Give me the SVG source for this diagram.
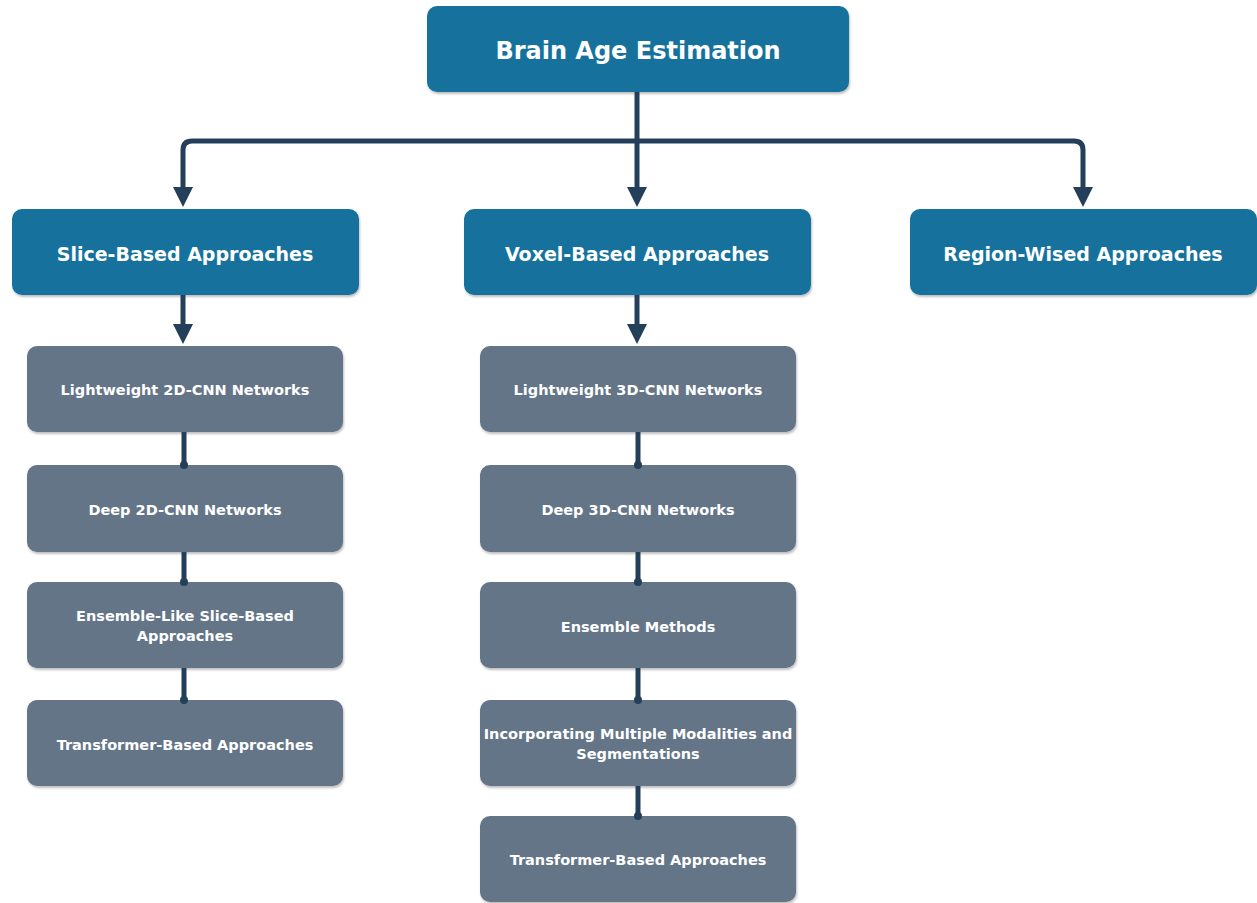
<svg xmlns="http://www.w3.org/2000/svg" width="1257" height="903" viewBox="0 0 1257 903">
<defs>
<style>
.blue{fill:#12729d}
.gray{fill:#647487}
.box{filter:url(#sh)}
.t1{font-family:"DejaVu Sans",Verdana,sans-serif;font-weight:bold;fill:#fff;text-anchor:middle;dominant-baseline:central}
.big{font-size:24px}
.mid{font-size:19px}
.sm{font-size:14.5px}
.ln{fill:none;stroke:#243f5a;stroke-width:5}
.arr{fill:#243f5a}
.dot{fill:#243f5a}
</style>
<filter id="sh" x="-5%" y="-5%" width="110%" height="120%">
<feDropShadow dx="1" dy="2" stdDeviation="1.2" flood-color="#000" flood-opacity="0.25"/>
</filter>
</defs>
<rect width="1257" height="903" fill="#fff"/>
<g id="root"><rect class="box blue" x="427" y="6" width="422" height="86" rx="10"/><text class="t1 big" x="638" y="51">Brain Age Estimation</text></g>
<g id="slice"><rect class="box blue" x="12" y="209" width="347" height="86" rx="10"/><text class="t1 mid" x="185" y="254">Slice-Based Approaches</text></g>
<g id="voxel"><rect class="box blue" x="464" y="209" width="347" height="86" rx="10"/><text class="t1 mid" x="637" y="254">Voxel-Based Approaches</text></g>
<g id="region"><rect class="box blue" x="910" y="209" width="347" height="86" rx="10"/><text class="t1 mid" x="1083" y="254">Region-Wised Approaches</text></g>
<g id="s1"><rect class="box gray" x="27" y="346" width="316" height="86" rx="10"/><text class="t1 sm" x="185" y="390">Lightweight 2D-CNN Networks</text></g>
<g id="s2"><rect class="box gray" x="27" y="465" width="316" height="87" rx="10"/><text class="t1 sm" x="185" y="510">Deep 2D-CNN Networks</text></g>
<g id="s3"><rect class="box gray" x="27" y="582" width="316" height="86" rx="10"/><text class="t1 sm" x="185" y="616">Ensemble-Like Slice-Based</text><text class="t1 sm" x="185" y="636">Approaches</text></g>
<g id="s4"><rect class="box gray" x="27" y="700" width="316" height="86" rx="10"/><text class="t1 sm" x="185" y="745">Transformer-Based Approaches</text></g>
<g id="v1"><rect class="box gray" x="480" y="346" width="316" height="86" rx="10"/><text class="t1 sm" x="638" y="390">Lightweight 3D-CNN Networks</text></g>
<g id="v2"><rect class="box gray" x="480" y="465" width="316" height="87" rx="10"/><text class="t1 sm" x="638" y="510">Deep 3D-CNN Networks</text></g>
<g id="v3"><rect class="box gray" x="480" y="582" width="316" height="86" rx="10"/><text class="t1 sm" x="638" y="627">Ensemble Methods</text></g>
<g id="v4"><rect class="box gray" x="480" y="700" width="316" height="86" rx="10"/><text class="t1 sm" x="638" y="734">Incorporating Multiple Modalities and</text><text class="t1 sm" x="638" y="754">Segmentations</text></g>
<g id="v5"><rect class="box gray" x="480" y="816" width="316" height="86" rx="10"/><text class="t1 sm" x="638" y="860">Transformer-Based Approaches</text></g>
<g id="connectors">
<path class="ln" d="M637 92 V188"/>
<path class="ln" d="M183 188 V150 Q183 141 192 141 H1074 Q1083 141 1083 150 V188"/>
<polygon class="arr" points="173,187 193,187 183,207"/>
<polygon class="arr" points="627,187 647,187 637,207"/>
<polygon class="arr" points="1073,187 1093,187 1083,207"/>
<path class="ln" d="M183 295 V326"/>
<polygon class="arr" points="173,324 193,324 183,344"/>
<path class="ln" d="M637 295 V326"/>
<polygon class="arr" points="627,324 647,324 637,344"/>
<path class="ln" d="M184 432 V465 M184 552 V582 M184 668 V700"/>
<circle class="dot" cx="184" cy="465" r="4"/>
<circle class="dot" cx="184" cy="582" r="4"/>
<circle class="dot" cx="184" cy="700" r="4"/>
<path class="ln" d="M638 432 V465 M638 552 V582 M638 668 V700 M638 786 V816"/>
<circle class="dot" cx="638" cy="465" r="4"/>
<circle class="dot" cx="638" cy="582" r="4"/>
<circle class="dot" cx="638" cy="700" r="4"/>
<circle class="dot" cx="638" cy="816" r="4"/>
</g>
</svg>
